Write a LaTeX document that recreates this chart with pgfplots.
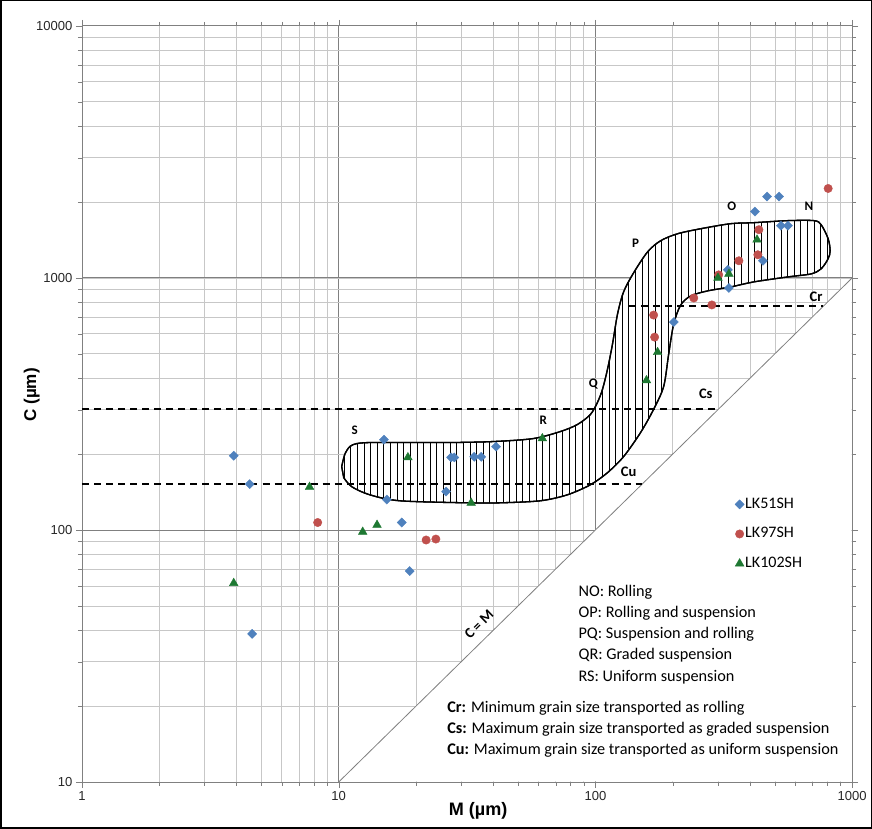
\documentclass[border=0pt]{standalone}
\usepackage{pgfplots}
\pgfplotsset{compat=1.18}
\usetikzlibrary{patterns.meta}
\usepackage{fontspec}
\setmainfont{Carlito}
\newfontfamily\arial{Liberation Sans}
\definecolor{lkblue}{RGB}{79,129,189}
\definecolor{lkred}{RGB}{192,80,77}
\definecolor{lkgreen}{RGB}{30,120,50}
\begin{document}
\begin{tikzpicture}
\begin{axis}[
  xmode=log, ymode=log,
  scale only axis, width=768pt, height=754pt,
  xmin=1, xmax=1000, ymin=10, ymax=10000,
  grid=both,
  major grid style={black!50, line width=0.8pt},
  minor grid style={black!22, line width=0.6pt},
  axis line style={black!50, line width=0.8pt},
  tick align=outside,
  major tick length=6pt, minor tick length=4pt,
  tick style={black!50},
  xtick={1,10,100,1000}, xticklabels={1,10,100,1000},
  ytick={10,100,1000,10000}, yticklabels={10,100,1000,10000},
  ticklabel style={font=\arial\fontsize{13}{15}\selectfont, text=black!85},
  legend style={at={(rel axis cs:0.8477,0.378)}, anchor=north west, draw=none, fill=white, inner sep=0pt,
    font=\fontsize{16}{19}\selectfont, row sep=13.5pt,
    nodes={inner sep=1pt, text height=11pt, text depth=3pt}},
  legend cell align=left,
  legend image code/.code={\draw[mark repeat=2,mark phase=2,#1] plot coordinates {(0pt,0pt) (5pt,0pt) (10pt,0pt)};},
]
% white region below C = M
\addplot[fill=white, draw=none, forget plot] coordinates {(10.05,10.05) (995,995) (995,10.05)} -- cycle;
% C = M line
\addplot[black!50, line width=0.8pt, forget plot] coordinates {(10,10) (1000,1000)};
% envelope
\addplot[smooth, draw=black, line width=1.3pt, preaction={fill=white},
  pattern={Lines[angle=90,distance=6.6pt,line width=0.9pt]}, forget plot] coordinates {
(10.27,178.2) (10.55,199.0) (11.04,214.1) (11.76,220.1) (13.22,222.2) (17.31,222.2)
(27.14,222.2) (39.96,224.2) (57.25,230.4) (73.02,245.7) (85.05,262.0) (95.6,287.2)
(101.8,320.6) (106.5,361.3) (111.4,434.0) (116.5,545.8) (121.9,718.9) (128.7,879.6)
(140.8,1047) (159.7,1269) (179.4,1404) (209.1,1497) (257.2,1567) (336.8,1641)
(414.2,1656) (562.3,1687) (710.5,1687) (756.8,1626) (805.9,1430) (820.5,1281)
(805.9,1191) (756.8,1086) (691.6,1037) (562.3,1009) (414.2,964) (336.8,921)
(273.8,888) (235.0,848) (214.8,780) (201.7,656) (192.8,498) (184.4,371)
(168.5,301) (149.9,243.5) (128.7,195.4) (111.4,168.7) (95.6,151.1) (77.7,137.8)
(61.0,130.5) (42.56,128.1) (31.62,128.1) (17.31,130.5) (13.22,137.8) (11.24,148.4)
(10.46,161.2)} -- cycle;
% dashed limits
\addplot[black, line width=1.7pt, dash pattern=on 7pt off 5pt, forget plot] coordinates {(1,301) (301,301)};
\addplot[black, line width=1.7pt, dash pattern=on 7pt off 5pt, forget plot] coordinates {(1,152) (152,152)};
\addplot[black, line width=1.7pt, dash pattern=on 7pt off 5pt, forget plot] coordinates {(135,775) (770,775)};
% data
\addplot[only marks, mark=square*, mark size=3.2pt, color=lkblue, mark options={rotate=45}] coordinates {
(3.9,197) (4.5,152) (4.6,38.7) (15.0,228) (15.4,132) (17.6,107) (18.9,68.7) (26.2,142)
(27.4,194) (28.2,194) (33.7,195) (35.9,195) (41.0,214) (202,668) (331,912) (328,1076)
(449,1169) (418,1833) (466,2102) (519,2102) (528,1611) (562,1611)};
\addlegendentry{LK51SH}
\addplot[only marks, mark=*, mark size=4.2pt, color=lkred] coordinates {
(8.28,107) (21.9,91.2) (23.9,92) (168.5,712) (170,582) (241.5,832) (284,781)
(302,1028) (362,1169) (429,1235) (433,1553) (806,2263)};
\addlegendentry{LK97SH}
\addplot[only marks, mark=triangle*, mark size=5pt, color=lkgreen] coordinates {
(3.9,61.5) (7.70,148) (18.6,194) (12.4,98.2) (14.1,104.6) (32.8,128) (62.1,230.7)
(158,392) (174.6,507) (300,1000) (331,1037) (426,1417)};
\addlegendentry{LK102SH}
% labels
\begin{scope}[every node/.style={font=\bfseries\fontsize{13}{15}\selectfont, inner sep=0pt}]
\node at (axis cs:11.55,248) {S};
\node at (axis cs:62.6,272) {R};
\node at (axis cs:98.2,378) {Q};
\node at (axis cs:143.3,1366) {P};
\node at (axis cs:339.8,1918) {O};
\node at (axis cs:679,1918) {N};
\end{scope}
\begin{scope}[every node/.style={font=\bfseries\fontsize{14.5}{16}\selectfont, inner sep=0pt}]
\node at (axis cs:723,840) {Cr};
\node at (axis cs:269,348) {Cs};
\node at (axis cs:134.6,170) {Cu};
\node[rotate=44.4] at (axis cs:35.2,42.2) {C = M};
\end{scope}
\begin{scope}[every node/.style={font=\fontsize{16.2}{19}\selectfont, inner sep=0pt, anchor=base west}]
\node at (rel axis cs:0.6445,0.2454) {NO: Rolling};
\node at (rel axis cs:0.6445,0.2175) {OP: Rolling and suspension};
\node at (rel axis cs:0.6445,0.1897) {PQ: Suspension and rolling};
\node at (rel axis cs:0.6445,0.1618) {QR: Graded suspension};
\node at (rel axis cs:0.6445,0.1326) {RS: Uniform suspension};
\node at (rel axis cs:0.474,0.0915) {\textbf{Cr:} Minimum grain size transported as rolling};
\node at (rel axis cs:0.474,0.0637) {\textbf{Cs:} Maximum grain size transported as graded suspension};
\node at (rel axis cs:0.474,0.0358) {\textbf{Cu:} Maximum grain size transported as uniform suspension};
\end{scope}
\end{axis}
\node[rotate=90, font=\arial\bfseries\fontsize{17}{20}\selectfont] at ([shift={(-50pt,386pt)}]current axis.south west) {C (µm)};
\node[font=\arial\bfseries\fontsize{18}{20}\selectfont] at ([shift={(395pt,-29pt)}]current axis.south west) {M (µm)};
\draw[line width=1.5pt] ([shift={(-81pt,-46pt)}]current axis.south west) rectangle ([shift={(19pt,25pt)}]current axis.north east);
\end{tikzpicture}
\end{document}
